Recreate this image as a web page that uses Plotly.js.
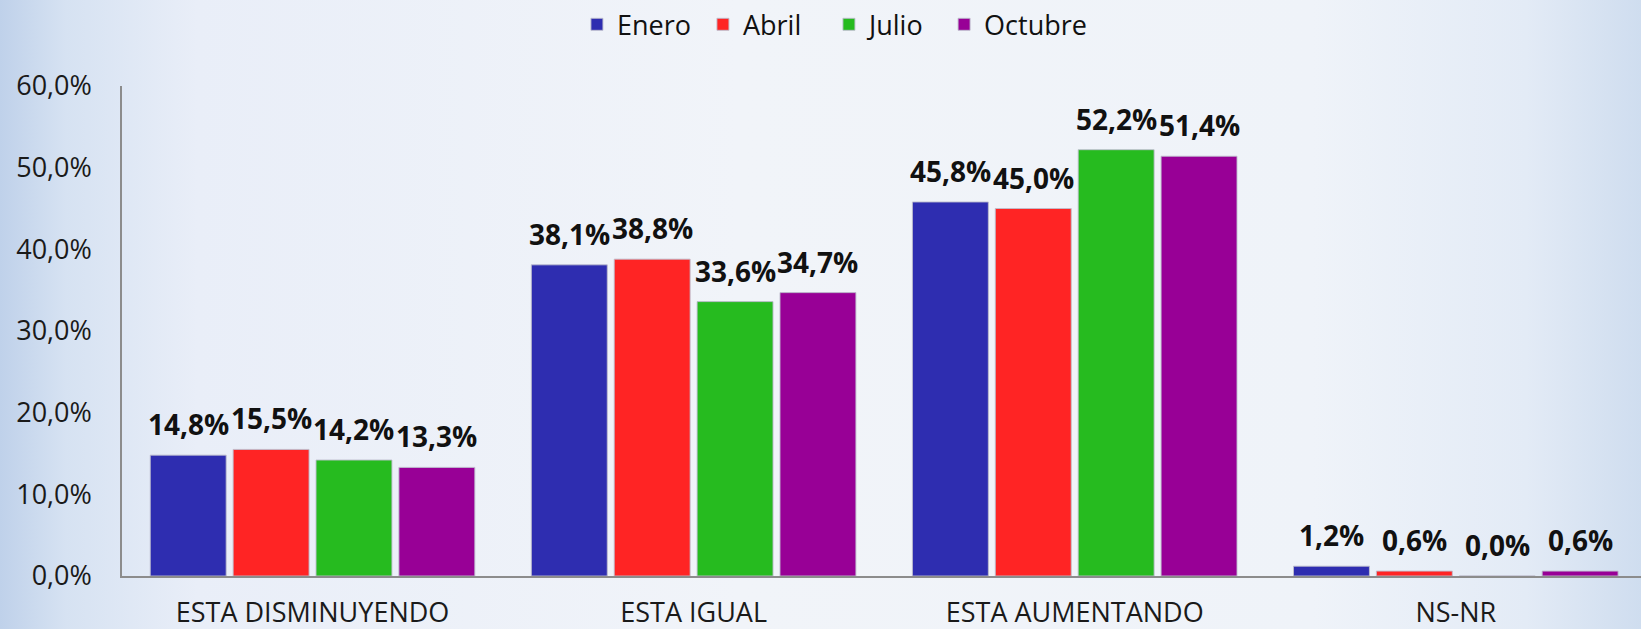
<!DOCTYPE html>
<html>
<head>
<meta charset="utf-8">
<script src="https://cdn.plot.ly/plotly-3.0.1.min.js"></script>
<style>
  html, body { margin: 0; padding: 0; }
  body {
    width: 1641px; height: 629px; overflow: hidden;
    background: linear-gradient(to right, #bfd1ea 0%, #d6e2f2 4%, #e9eef8 12%, #f1f4f9 45%, #eff3f9 80%, #e3ebf6 93%, #cfddef 100%);
  }
  #chart { width: 1641px; height: 629px; }
</style>
</head>
<body>
<div id="chart"></div>
<script>
// ---- data ----
const categories = ["ESTA DISMINUYENDO", "ESTA IGUAL", "ESTA AUMENTANDO", "NS-NR"];
const seriesNames = ["Enero", "Abril", "Julio", "Octubre"];
const enero   = [14.8, 38.1, 45.8, 1.2];
const abril   = [15.5, 38.8, 45.0, 0.6];
const julio   = [14.2, 33.6, 52.2, 0.0];
const octubre = [13.3, 34.7, 51.4, 0.6];
const yTickVals = [0, 10, 20, 30, 40, 50, 60];
const yTickText = ["0,0%", "10,0%", "20,0%", "30,0%", "40,0%", "50,0%", "60,0%"];

// ---- styles ----
const colors = ["#2e2db0", "#ff2424", "#26bb1f", "#980096"];
const legendRefs = ["legend", "legend", "legend", "legend2"];
const seriesValues = [enero, abril, julio, octubre];

const W = 1641, H = 629;
const margin = { l: 122, r: 0, t: 84, b: 53 };
const xRange = [-0.5, 3.486];
const bargap = 0.13, bargroupgap = 0.084;

const fmt = v => v.toFixed(1).replace('.', ',') + '%';

const traces = seriesValues.map((vals, i) => ({
  type: 'bar',
  name: seriesNames[i],
  x: categories,
  y: vals,
  legend: legendRefs[i],
  marker: { color: colors[i], line: { color: 'rgba(190,190,205,0.9)', width: 1 } },
  hoverinfo: 'x+y+name'
}));

// data labels above each bar, positioned via axis scale
const plotW = W - margin.l - margin.r;
const pxPerUnit = plotW / (xRange[1] - xRange[0]);
const slotPx = (1 - bargap) / seriesValues.length * pxPerUnit;
const annotations = [];
seriesValues.forEach((vals, i) => {
  vals.forEach((v, j) => {
    annotations.push({
      x: categories[j], y: v, xref: 'x', yref: 'y',
      text: fmt(v), showarrow: false,
      xanchor: 'center', yanchor: 'bottom',
      xshift: (i - (seriesValues.length - 1) / 2) * slotPx,
      yshift: 10,
      font: { family: 'Open Sans', size: 28, color: '#111111', weight: 700 }
    });
  });
});

const legendBase = {
  orientation: 'h',
  xanchor: 'left',
  y: 1.125, yanchor: 'middle',
  font: { family: 'Open Sans', size: 27, color: '#111111' },
  bgcolor: 'rgba(0,0,0,0)',
  itemwidth: 30,
  traceorder: 'normal'
};

const layout = {
  width: W, height: H,
  margin: margin,
  paper_bgcolor: 'rgba(0,0,0,0)',
  plot_bgcolor: 'rgba(0,0,0,0)',
  barmode: 'group',
  bargap: bargap,
  bargroupgap: bargroupgap,
  font: { family: 'Open Sans', color: '#1a1a1a' },
  showlegend: true,
  legend: Object.assign({}, legendBase, { x: 0.2995, entrywidth: 81, entrywidthmode: 'pixels' }),
  legend2: Object.assign({}, legendBase, { x: 0.5412 }),
  xaxis: {
    type: 'category',
    range: xRange,
    showgrid: false, zeroline: false,
    showline: true, linecolor: '#8c8c8c', linewidth: 1.5,
    ticks: '',
    ticklabelstandoff: 12,
    tickfont: { family: 'Open Sans', size: 27, color: '#1a1a1a' },
    fixedrange: true
  },
  yaxis: {
    range: [0, 60],
    tickmode: 'array',
    tickvals: yTickVals,
    ticktext: yTickText,
    showgrid: false, zeroline: false,
    showline: true, linecolor: '#8c8c8c', linewidth: 1.5,
    ticks: '',
    ticklabelstandoff: 23,
    tickfont: { family: 'Open Sans', size: 27, color: '#1a1a1a' },
    fixedrange: true
  },
  annotations: annotations
};

Plotly.newPlot('chart', traces, layout, { displayModeBar: false, responsive: false });
</script>
</body>
</html>
